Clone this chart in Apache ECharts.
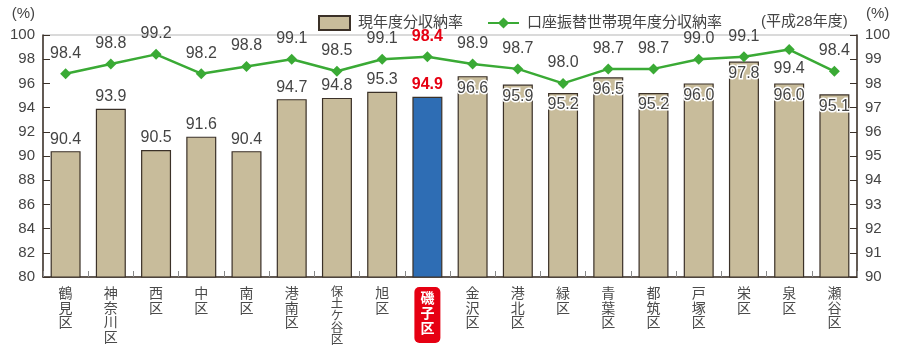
<!DOCTYPE html>
<html><head><meta charset="utf-8">
<script src="https://cdn.jsdelivr.net/npm/echarts@6/dist/echarts.min.js"></script>
<style>html,body{margin:0;padding:0;background:#fff}#c{width:900px;height:351px}</style>
</head><body><div id="c"></div>
<script>
const categories = ['鶴見区','神奈川区','西区','中区','南区','港南区','保土ケ谷区','旭区','磯子区','金沢区','港北区','緑区','青葉区','都筑区','戸塚区','栄区','泉区','瀬谷区'];
const barValues = [90.4, 93.9, 90.5, 91.6, 90.4, 94.7, 94.8, 95.3, 94.9, 96.6, 95.9, 95.2, 96.5, 95.2, 96.0, 97.8, 96.0, 95.1];
const lineValues = [98.4, 98.8, 99.2, 98.4, 98.7, 99.0, 98.5, 99.0, 99.1, 98.8, 98.6, 98.0, 98.6, 98.6, 99.0, 99.1, 99.4, 98.5];
const lineValueLabels = ['98.4','98.8','99.2','98.2','98.8','99.1','98.5','99.1','98.4','98.9','98.7','98.0','98.7','98.7','99.0','99.1','99.4','98.4'];
const leftTicks = [80, 100, 2];
const rightTicks = [90, 100, 1];
const seriesNames = ['現年度分収納率', '口座振替世帯現年度分収納率'];
const yearNote = '(平成28年度)';
const highlight = '磯子区';

const FONT = "'Liberation Sans','Noto Sans CJK JP',sans-serif";
const hi = categories.indexOf(highlight);

const barData = barValues.map((v, i) => {
  const item = { value: v };
  if (i === hi) {
    item.itemStyle = { color: '#2e6db4' };
    item.label = { color: '#e60012', fontWeight: 'bold' };
  } else if (i > hi) {
    item.label = { position: 'insideTop', distance: 4, textBorderColor: '#fff', textBorderWidth: 3 };
  }
  return item;
});
const lineData = lineValues.map((v, i) => {
  const item = { value: v };
  if (i === hi) item.label = { color: '#e60012', fontWeight: 'bold' };
  if (v === Math.max(...lineValues)) item.label = { position: 'bottom', distance: 6, textBorderColor: '#fff', textBorderWidth: 3 };
  return item;
});

const catData = categories.map((c, i) => {
  if (i === hi) return {
    value: c,
    textStyle: { color: '#fff', fontWeight: 'bold', backgroundColor: '#e60012', borderRadius: 5, padding: [5, 6, 6, 6], lineHeight: 15 }
  };
  if (c.length > 4) return { value: c, textStyle: { fontSize: 12.5, lineHeight: 12 } };
  return c;
});

const chart = echarts.init(document.getElementById('c'), null, { renderer: 'canvas' });
chart.setOption({
  animation: false,
  textStyle: { fontFamily: FONT },
  title: {
    text: yearNote, left: 756, top: 9,
    textStyle: { fontSize: 15, fontWeight: 'normal', color: '#444', fontFamily: FONT }
  },
  legend: {
    left: 313, top: 10, itemWidth: 31, itemHeight: 14, itemGap: 24,
    textStyle: { fontSize: 15, color: '#444', padding: [0, 0, 0, 3] },
    data: [{ name: seriesNames[0], icon: 'rect' }, { name: seriesNames[1] }]
  },
  grid: { left: 43, right: 43, top: 35, bottom: 74, outerBoundsMode: 'none', containLabel: false,
    show: true, borderColor: '#b5b5b5', borderWidth: 1 },
  xAxis: {
    type: 'category', data: catData,
    axisLine: { lineStyle: { color: '#3b3128', width: 1.5 } },
    axisTick: { show: true, inside: true, length: 6, lineStyle: { color: '#888' } },
    axisLabel: {
      interval: 0, margin: 10, fontSize: 14, lineHeight: 14.5, color: '#4a4a4a',
      formatter: v => v.split('').join('\n')
    }
  },
  yAxis: [{
    type: 'value', min: leftTicks[0], max: leftTicks[1], interval: leftTicks[2],
    name: '(%)', nameLocation: 'end', nameGap: 14,
    nameTextStyle: { fontSize: 15, color: '#444', align: 'right', padding: [0, 8, 0, 0] },
    axisLine: { show: true, lineStyle: { color: '#3b3128', width: 1.5 } },
    axisTick: { show: true, inside: true, length: 7, lineStyle: { color: '#3b3128' } },
    axisLabel: { fontSize: 15, color: '#444', margin: 8 },
    splitLine: { show: false }
  }, {
    type: 'value', min: rightTicks[0], max: rightTicks[1], interval: rightTicks[2],
    name: '(%)', nameLocation: 'end', nameGap: 14,
    nameTextStyle: { fontSize: 15, color: '#444', align: 'left', padding: [0, 0, 0, 9] },
    axisLine: { show: true, lineStyle: { color: '#3b3128', width: 1.5 } },
    axisTick: { show: true, inside: true, length: 7, lineStyle: { color: '#3b3128' } },
    axisLabel: { fontSize: 15, color: '#444', margin: 8 },
    splitLine: { show: false }
  }],
  series: [{
    name: seriesNames[0], type: 'bar', yAxisIndex: 0, barWidth: 30, z: 2,
    itemStyle: { color: '#c8bc9b', borderColor: '#3b3128', borderWidth: 1.2 },
    label: { show: true, position: 'top', distance: 4, fontSize: 16, color: '#444', formatter: p => p.value.toFixed(1) },
    data: barData
  }, {
    name: seriesNames[1], type: 'line', yAxisIndex: 1, z: 3,
    symbol: 'diamond', symbolSize: 11,
    lineStyle: { color: '#3aaa35', width: 2.5 },
    itemStyle: { color: '#3aaa35' },
    label: { show: true, position: 'top', distance: 7, fontSize: 16, color: '#444', formatter: p => lineValueLabels[p.dataIndex] },
    data: lineData
  }]
});
</script></body></html>
